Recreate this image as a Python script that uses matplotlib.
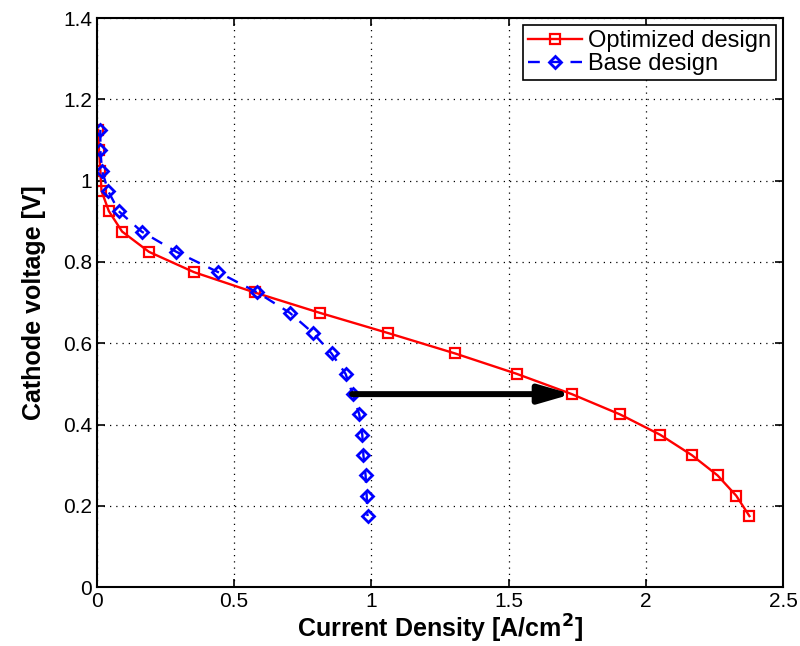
import numpy as np
from matplotlib import pyplot as plt
import matplotlib.ticker as ticker

plt.rcParams['font.family'] = ['Liberation Sans', 'DejaVu Sans']

# cathode voltage levels [V]
voltage = [1.125, 1.075, 1.025, 0.975, 0.925, 0.875, 0.825, 0.775, 0.725, 0.675,
           0.625, 0.575, 0.525, 0.475, 0.425, 0.375, 0.325, 0.275, 0.225, 0.175]

# current density [A/cm^2]
optimized = [0.005, 0.008, 0.013, 0.017, 0.044, 0.092, 0.19, 0.354, 0.575, 0.812,
             1.062, 1.305, 1.529, 1.73, 1.906, 2.052, 2.167, 2.261, 2.329, 2.377]
base = [0.013, 0.013, 0.019, 0.041, 0.08, 0.163, 0.29, 0.442, 0.585, 0.703,
        0.788, 0.855, 0.906, 0.932, 0.956, 0.967, 0.971, 0.979, 0.983, 0.986]

arrow_v = 0.475
arrow_from = 0.93
arrow_to = 1.73

fig = plt.figure(figsize=(8, 6.46), dpi=100)
ax = fig.add_axes([0.121, 0.091, 0.858, 0.881])

ax.plot(optimized, voltage, '-s', color='red', lw=1.7, ms=6.5,
        mfc='none', mew=1.6, label='Optimized design')
ax.plot(base, voltage, '--D', color='blue', lw=1.7, ms=6,
        mfc='none', mew=2.0, dashes=(5, 4), label='Base design')

ax.annotate('', xy=(arrow_to, arrow_v), xytext=(arrow_from, arrow_v),
            arrowprops=dict(arrowstyle='-|>,head_length=1.9,head_width=0.55',
                            color='black', lw=4.3, shrinkA=0, shrinkB=0))

ax.set_xlim(0, 2.5)
ax.set_ylim(0, 1.4)
ax.set_xticks(np.arange(0, 2.51, 0.5))
ax.set_yticks(np.arange(0, 1.41, 0.2))
fmt = ticker.FuncFormatter(lambda v, p: '%g' % round(v, 2))
ax.xaxis.set_major_formatter(fmt)
ax.yaxis.set_major_formatter(fmt)
ax.tick_params(direction='in', top=True, right=True, labelsize=15, length=6, width=1.2)
ax.grid(True, color='black', linestyle=(0, (1, 4)), lw=0.9)
for s in ax.spines.values():
    s.set_linewidth(1.5)

ax.set_xlabel('Current Density [A/cm$^\\mathbf{2}$]', fontsize=18, fontweight='bold',
              labelpad=1)
ax.set_ylabel('Cathode voltage [V]', fontsize=18, fontweight='bold', labelpad=12)

leg = ax.legend(loc='upper right', fontsize=17, fancybox=False, framealpha=1,
                edgecolor='black', borderpad=0.2, handlelength=2.3,
                handletextpad=0.25, labelspacing=0.05, borderaxespad=0.3)
leg.get_frame().set_linewidth(1.2)

fig.savefig('out.png', dpi=100)
